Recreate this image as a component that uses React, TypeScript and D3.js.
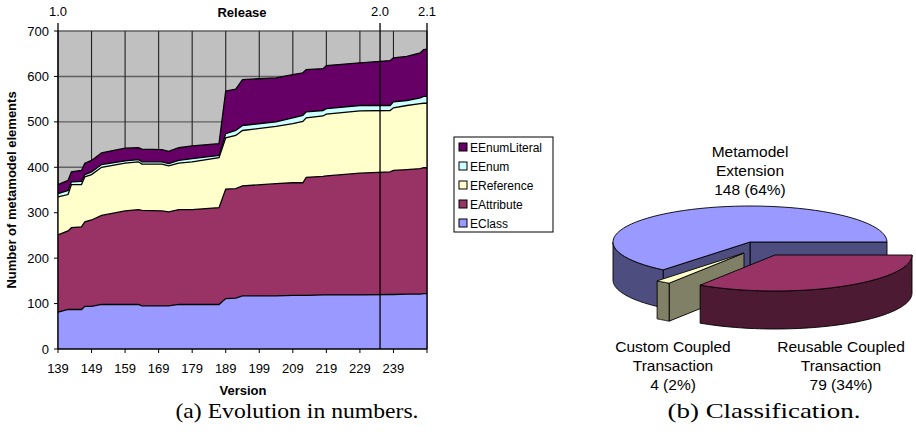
import * as d3 from "d3";

// versions where the counts change
const versions = [139, 142, 143, 146, 147, 149, 152, 159, 163, 164, 170, 172, 175, 179, 187, 189, 192, 194, 204, 209, 212, 213, 218, 219, 229, 238, 239, 243, 247, 248, 249];
const eClass = [81, 87, 87, 87, 94, 94, 98, 98, 98, 95, 95, 95, 98, 98, 98, 111, 112, 117, 117, 118, 118, 118, 119, 119, 119, 120, 120, 121, 121, 122, 122];
const eAttribute = [170, 173, 180, 182, 186, 190, 196, 206, 209, 210, 209, 207, 209, 209, 213, 241, 241, 242, 247, 248, 248, 260, 261, 262, 268, 270, 273, 274, 276, 277, 277];
const eReference = [84, 80, 95, 93, 99, 100, 106, 105, 105, 102, 103, 101, 102, 105, 110, 113, 117, 122, 126, 130, 135, 131, 133, 136, 137, 135, 138, 141, 143, 142, 142];
const eEnum = [7, 9, 6, 7, 5, 6, 6, 5, 5, 5, 5, 5, 6, 7, 5, 9, 11, 11, 10, 13, 13, 13, 12, 12, 12, 11, 13, 11, 13, 15, 15];
const eEnumLiteral = [20, 22, 22, 24, 25, 25, 26, 28, 26, 28, 27, 27, 28, 28, 26, 94, 91, 101, 97, 95, 94, 93, 92, 95, 94, 99, 97, 97, 99, 103, 104];

const seriesKeys = ["EClass", "EAttribute", "EReference", "EEnum", "EEnumLiteral"];
const seriesColors = ["#9999FF", "#993366", "#FFFFCC", "#CCFFFF", "#660066"];

const yTicks = [0, 100, 200, 300, 400, 500, 600, 700];
const xTicks = [139, 149, 159, 169, 179, 189, 199, 209, 219, 229, 239];
const gridVersions = [139, 149, 159, 169, 179, 189, 199, 209, 219, 229, 239, 249];
const releaseNames = ["1.0", "2.0", "2.1"];
const releaseVersions = [139, 235, 249];

// pie
const pieNames = [["Metamodel", "Extension"], ["Custom Coupled", "Transaction"], ["Reusable Coupled", "Transaction"]];
const pieValues = [148, 4, 79];
const pieTop = ["#9999FF", "#FFFFCC", "#993366"];
const pieSide = ["#4D4D80", "#808066", "#4D1A33"];

const FONT = "'Liberation Sans', Arial, sans-serif";

export default function App() {
  const x = d3.scaleLinear().domain([139, 249]).range([58, 427]);
  const y = d3.scaleLinear().domain([0, 700]).range([349, 31]);

  const rows = versions.map((v, i) => ({
    version: v,
    EClass: eClass[i],
    EAttribute: eAttribute[i],
    EReference: eReference[i],
    EEnum: eEnum[i],
    EEnumLiteral: eEnumLiteral[i],
  }));
  const stacked = d3.stack<any>().keys(seriesKeys)(rows);

  const area = d3
    .area<any>()
    .x((d) => x(d.data.version))
    .y0((d) => y(d[0]))
    .y1((d) => y(d[1]));
  const topLine = d3
    .line<any>()
    .x((d) => x(d.data.version))
    .y((d) => y(d[1]));

  // 3D pie geometry
  const pcx = 750, pcy = 242, prx = 137, pry = 36, depth = 38;
  const offsets = [[0, 0], [-6, 11], [25, 13]];
  const arcs = d3.pie<number>().sort(null).startAngle(0).endAngle(2 * Math.PI)(pieValues);
  const total = d3.sum(pieValues);
  const pt = (t: number, r: number, o: number[], dz: number): [number, number] => [
    pcx + o[0] + prx * r * Math.cos(t),
    pcy + o[1] - pry * r * Math.sin(t) + dz,
  ];
  const arcPts = (t0: number, t1: number, o: number[], dz: number) =>
    d3.range(0, 61).map((i) => pt(t0 + ((t1 - t0) * i) / 60, 1, o, dz));
  const poly = d3.line().curve(d3.curveLinearClosed);

  const pieShapes = arcs.map((a, i) => {
    const o = offsets[i];
    const t0 = a.startAngle, t1 = a.endAngle;
    const parts: { d: string; fill: string }[] = [];
    const face = (t: number) => poly([pt(t, 0, o, 0), pt(t, 1, o, 0), pt(t, 1, o, depth), pt(t, 0, o, depth)]) as string;
    if (Math.sin(t0 - Math.PI / 2) < -0.01) parts.push({ d: face(t0), fill: pieSide[i] });
    if (Math.sin(t1 + Math.PI / 2) < -0.01) parts.push({ d: face(t1), fill: pieSide[i] });
    const w0 = Math.max(t0, Math.PI), w1 = Math.min(t1, 2 * Math.PI);
    if (w1 > w0) {
      const top = arcPts(w0, w1, o, 0);
      const bot = arcPts(w0, w1, o, depth).reverse();
      parts.push({ d: poly([...top, ...bot]) as string, fill: pieSide[i] });
    }
    parts.push({ d: poly([pt(0, 0, o, 0), ...arcPts(t0, t1, o, 0)]) as string, fill: pieTop[i] });
    return parts;
  });

  const pieLabelPos = [[750, 156.5], [673, 351.5], [841, 351.5]];

  return (
    <svg width={916} height={434} style={{ position: "absolute", left: 0, top: 0, background: "#fff" }} fontFamily={FONT}>
      {/* plot background */}
      <rect x={x(139)} y={y(700)} width={x(249) - x(139)} height={y(0) - y(700)} fill="#C0C0C0" />
      {yTicks.slice(1).map((t) => (
        <line key={t} x1={x(139)} x2={x(249)} y1={y(t)} y2={y(t)} stroke="#606060" strokeWidth={1.4} />
      ))}
      {gridVersions.map((v) => (
        <line key={v} x1={x(v)} x2={x(v)} y1={y(0)} y2={y(700)} stroke="#222" strokeWidth={1.1} />
      ))}

      {/* stacked areas */}
      {stacked.map((s, i) => (
        <path key={s.key} d={area(s) as string} fill={seriesColors[i]} />
      ))}
      {stacked.map((s) => (
        <path key={s.key + "l"} d={topLine(s) as string} fill="none" stroke="#000" strokeWidth={1.3} />
      ))}

      {/* axes */}
      <line x1={x(139)} x2={x(139)} y1={23} y2={y(0)} stroke="#000" strokeWidth={1.3} />
      <line x1={x(249)} x2={x(249)} y1={23} y2={y(0)} stroke="#000" strokeWidth={1.3} />
      <line x1={x(235)} x2={x(235)} y1={23} y2={y(0)} stroke="#000" strokeWidth={1.3} />
      <line x1={x(139)} x2={x(249)} y1={y(0)} y2={y(0)} stroke="#000" strokeWidth={1.3} />
      {yTicks.map((t) => (
        <g key={t}>
          <line x1={x(139) - 4} x2={x(139)} y1={y(t)} y2={y(t)} stroke="#000" />
          <text x={49} y={y(t) + 4.5} textAnchor="end" fontSize={13}>{t}</text>
        </g>
      ))}
      {gridVersions.map((v) => (
        <line key={v} x1={x(v)} x2={x(v)} y1={y(0)} y2={y(0) + 4} stroke="#000" />
      ))}
      {xTicks.map((v) => (
        <text key={v} x={x(v)} y={372.5} textAnchor="middle" fontSize={13}>{v}</text>
      ))}
      {releaseNames.map((n, i) => (
        <text key={n} x={x(releaseVersions[i])} y={16} textAnchor="middle" fontSize={13}>{n}</text>
      ))}
      <text x={242} y={16.5} textAnchor="middle" fontSize={13} fontWeight="bold">Release</text>
      <text x={243} y={395} textAnchor="middle" fontSize={13} fontWeight="bold">Version</text>
      <text transform="translate(16,190) rotate(-90)" textAnchor="middle" fontSize={13} fontWeight="bold">
        Number of metamodel elements
      </text>

      {/* legend */}
      <rect x={454} y={137} width={99} height={95} fill="#fff" stroke="#000" />
      {seriesKeys.slice().reverse().map((k, i) => {
        const cy = 147 + i * 19;
        const c = seriesColors[seriesKeys.length - 1 - i];
        return (
          <g key={k}>
            <rect x={459} y={cy - 4} width={8} height={8} fill={c} stroke="#000" />
            <text x={470} y={cy + 4.5} fontSize={12}>{k}</text>
          </g>
        );
      })}

      {/* 3D pie */}
      {pieShapes.map((parts, i) =>
        parts.map((p, j) => <path key={i + "-" + j} d={p.d} fill={p.fill} stroke="#000" strokeWidth={0.9} strokeLinejoin="round" />)
      )}
      {pieNames.map((lines, i) => {
        const [lx, ly] = pieLabelPos[i];
        const pct = Math.round((pieValues[i] / total) * 100);
        return (
          <text key={i} x={lx} y={ly} textAnchor="middle" fontSize={15.5}>
            {lines.map((l, j) => (
              <tspan key={j} x={lx} dy={j === 0 ? 0 : 19}>{l}</tspan>
            ))}
            <tspan x={lx} dy={19}>{`${pieValues[i]} (${pct}%)`}</tspan>
          </text>
        );
      })}

      {/* captions */}
      <text x={297} y={418} textAnchor="middle" fontSize={21} fontFamily="'Liberation Serif', serif" textLength={243} lengthAdjust="spacingAndGlyphs">
        (a) Evolution in numbers.
      </text>
      <text x={764} y={418} textAnchor="middle" fontSize={21} fontFamily="'Liberation Serif', serif" textLength={193} lengthAdjust="spacingAndGlyphs">
        (b) Classification.
      </text>
    </svg>
  );
}
